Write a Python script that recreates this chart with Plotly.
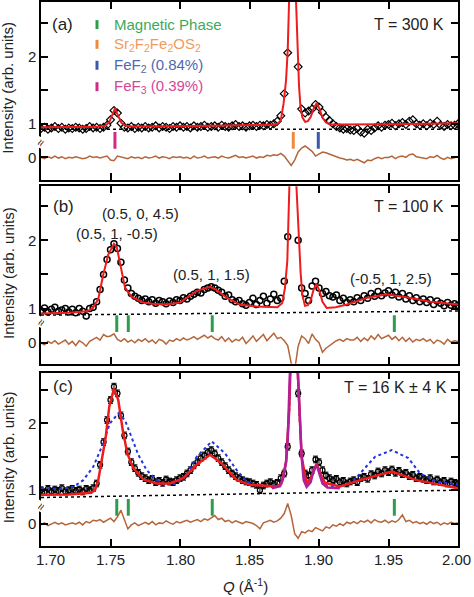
import plotly.graph_objects as go

# ---------------- data ----------------
Q_START, Q_STEP, N_Q = 1.70, 0.0025, 121
q_obs = [round(Q_START + Q_STEP * i, 4) for i in range(N_Q)]

obs_a = [0.93,0.95,0.92,0.94,0.96,0.93,0.95,0.92,0.94,0.93,
         0.95,0.94,0.92,0.93,0.96,0.94,0.95,0.93,0.95,0.98,
         1.06,1.20,1.16,1.01,0.95,0.94,0.96,0.93,0.95,0.94,
         0.96,0.94,0.95,0.97,0.94,0.96,0.95,0.93,0.96,0.95,
         0.97,0.95,0.96,0.94,0.97,0.95,0.96,0.98,0.95,0.96,
         0.97,0.95,0.98,0.96,0.95,0.97,0.99,0.96,0.97,0.95,
         0.97,0.98,0.96,0.98,0.97,0.99,0.98,1.00,1.04,1.12,
         1.45,2.06,4.50,3.80,1.85,1.22,1.16,1.19,1.22,1.29,
         1.25,1.17,1.10,1.05,1.00,0.96,0.94,0.92,0.93,0.91,
         0.90,0.93,0.88,0.86,0.92,0.90,0.94,0.97,0.95,0.98,
         0.99,1.01,0.97,1.00,1.02,0.99,1.04,1.06,1.00,0.98,
         1.00,0.97,1.01,0.99,1.04,0.98,0.96,0.99,0.97,0.98,
         1.00]
res_a = [0.00,-0.02,0.01,-0.01,0.02,-0.01,0.01,-0.02,0.00,-0.01,
         0.01,0.00,-0.02,-0.01,0.02,0.00,0.01,-0.01,0.01,0.02,
         -0.04,-0.05,0.02,0.01,-0.01,-0.02,0.01,-0.01,0.00,-0.02,
         0.01,-0.01,0.00,0.02,-0.01,0.01,0.00,-0.02,0.01,0.00,
         0.01,-0.01,0.00,-0.02,0.02,-0.01,0.00,0.02,-0.01,0.00,
         0.01,-0.01,0.02,0.00,-0.01,0.01,0.03,0.00,0.01,-0.01,
         0.00,0.02,-0.01,0.01,0.00,0.03,0.02,0.04,0.03,0.06,
         0.02,-0.06,-0.12,-0.04,0.08,0.14,0.17,0.13,0.09,0.02,
         0.05,0.08,0.07,0.05,0.02,0.01,-0.01,-0.02,-0.04,-0.03,
         -0.05,-0.03,-0.06,-0.08,-0.04,-0.05,-0.02,0.00,-0.02,0.00,
         0.00,0.02,-0.02,0.01,0.02,0.00,0.04,0.05,0.01,0.00,
         0.00,-0.02,0.01,0.00,0.03,-0.01,-0.03,0.00,-0.02,-0.01,
         0.01]
fit_a_q = [1.700,1.740,1.746,1.749,1.751,1.7532,1.7555,1.758,1.761,1.766,1.800,1.850,1.866,
           1.870,1.8725,1.8745,1.8763,1.8775,1.879,1.8807,1.8825,1.8844,1.8856,1.8866,1.888,
           1.890,1.892,1.894,1.896,1.8983,1.9005,1.9025,1.905,1.9075,1.912,1.950,2.000]
fit_a_y = [0.95,0.955,0.97,1.02,1.12,1.23,1.12,1.01,0.97,0.96,0.965,0.975,0.985,
           1.00,1.05,1.30,1.65,2.10,3.2,4.5,3.4,2.06,1.58,1.27,1.10,
           1.03,1.04,1.10,1.22,1.31,1.22,1.09,1.02,0.995,0.99,0.995,1.01]

obs_b = [0.97,1.01,0.95,0.99,1.02,0.96,0.98,1.00,0.95,0.99,
         0.94,1.00,0.96,0.89,1.00,1.02,1.10,1.28,1.50,1.72,
         1.86,1.95,1.88,1.68,1.42,1.30,1.22,1.18,1.15,1.12,
         1.14,1.10,1.13,1.08,1.12,1.10,1.07,1.11,1.09,1.13,
         1.12,1.16,1.14,1.18,1.21,1.24,1.23,1.28,1.30,1.32,
         1.30,1.27,1.24,1.18,1.20,1.13,1.10,1.12,1.07,1.05,
         1.09,1.15,1.06,1.12,1.18,1.08,1.14,1.21,1.12,1.15,
         1.40,2.05,4.20,3.50,2.00,1.30,1.22,1.12,1.33,1.40,
         1.30,1.22,1.25,1.19,1.17,1.20,1.12,1.15,1.09,1.13,
         1.10,1.16,1.12,1.19,1.15,1.22,1.18,1.25,1.19,1.23,
         1.26,1.20,1.24,1.17,1.22,1.14,1.19,1.12,1.16,1.10,
         1.14,1.09,1.13,1.06,1.11,1.08,1.04,1.09,1.05,1.07,
         1.05]
res_b = [0.00,-0.03,0.02,-0.01,0.03,-0.02,0.01,0.04,-0.02,0.02,
         -0.04,0.03,0.00,-0.05,0.02,0.05,0.08,0.04,0.12,0.09,
         0.10,0.13,0.05,0.02,0.06,0.01,0.04,0.00,0.05,0.02,
         0.06,0.01,0.04,-0.01,0.05,0.03,-0.02,0.04,0.02,0.06,
         0.03,0.07,0.04,0.06,0.09,0.05,0.08,0.11,0.07,0.10,
         0.06,0.04,0.09,0.02,0.07,0.01,0.05,0.03,0.08,-0.01,
         0.04,0.10,0.02,0.07,0.12,0.03,0.09,0.14,0.06,0.08,
         0.03,-0.04,-0.30,-0.40,-0.05,0.10,0.06,-0.01,0.13,0.05,
         0.00,-0.14,-0.08,-0.04,0.00,0.03,0.05,0.02,0.06,0.04,
         0.04,0.08,0.02,0.07,0.03,0.10,0.05,0.12,0.06,0.09,
         0.11,0.05,0.09,0.03,0.08,0.02,0.07,0.01,0.05,0.03,
         0.06,0.02,0.05,-0.01,0.04,0.02,-0.02,0.05,0.01,0.03,
         0.02]
fit_b_q = [1.700,1.720,1.733,1.737,1.7412,1.7448,1.7484,1.7525,1.7545,1.7568,1.7604,1.7652,
           1.770,1.7736,1.780,1.790,1.800,1.812,1.8216,1.8265,1.8336,1.843,1.855,1.870,
           1.8735,1.8755,1.8772,1.8787,1.8810,1.8835,1.8851,1.8868,1.888,1.8899,1.892,1.894,
           1.896,1.8983,1.9005,1.9025,1.9055,1.912,1.920,1.935,1.9487,1.965,1.980,2.000]
fit_b_y = [0.93,0.94,0.96,1.00,1.14,1.50,1.79,1.95,1.90,1.65,1.31,1.17,
           1.12,1.09,1.07,1.06,1.09,1.26,1.32,1.27,1.16,1.06,1.03,1.02,
           1.08,1.30,1.70,2.55,4.5,2.9,2.11,1.52,1.20,1.04,1.05,1.12,
           1.27,1.36,1.25,1.10,1.01,1.02,1.06,1.16,1.21,1.16,1.10,1.06]

obs_c = [1.00,0.97,1.02,0.98,1.01,0.99,1.03,0.98,1.00,1.02,
         0.99,1.01,0.98,1.02,1.00,1.03,1.10,1.38,1.72,2.05,
         2.35,2.55,2.45,2.12,1.82,1.58,1.42,1.33,1.26,1.21,
         1.18,1.15,1.17,1.12,1.14,1.11,1.16,1.13,1.12,1.15,
         1.18,1.20,1.25,1.30,1.37,1.42,1.48,1.52,1.57,1.60,
         1.55,1.48,1.42,1.36,1.30,1.25,1.21,1.18,1.15,1.13,
         1.12,1.10,1.08,1.00,1.07,1.10,1.12,1.09,1.11,1.18,
         1.25,1.65,3.80,4.20,2.45,1.55,1.25,1.22,1.30,1.46,
         1.42,1.30,1.22,1.18,1.15,1.17,1.12,1.14,1.10,1.13,
         1.15,1.12,1.18,1.20,1.17,1.24,1.22,1.28,1.25,1.30,
         1.27,1.31,1.26,1.29,1.24,1.26,1.21,1.23,1.18,1.20,
         1.17,1.15,1.18,1.13,1.16,1.12,1.14,1.10,1.13,1.11,
         1.10]
err_c = 0.05
res_c = [-0.02,0.01,-0.03,0.00,0.02,-0.01,0.01,-0.02,0.00,0.01,
         -0.01,0.02,-0.02,0.03,0.01,0.05,0.04,0.06,0.02,0.05,
         0.08,0.03,0.10,0.20,0.05,-0.08,-0.02,0.01,-0.03,0.00,
         0.02,-0.01,0.03,-0.02,0.01,0.00,0.04,0.01,-0.01,0.03,
         0.01,0.03,0.05,0.02,0.04,0.06,0.03,0.07,0.05,0.09,
         0.12,0.06,0.08,0.03,0.05,0.01,0.04,0.02,0.00,0.03,
         0.02,0.00,-0.03,-0.08,0.01,0.03,0.05,0.02,0.04,0.08,
         0.15,0.30,0.12,-0.15,-0.22,-0.12,-0.14,-0.10,-0.12,-0.06,
         -0.08,-0.11,-0.05,-0.07,-0.02,-0.04,0.00,-0.03,0.02,0.00,
         0.03,0.00,0.04,0.02,0.05,0.01,0.06,0.03,0.02,0.05,
         0.01,0.04,0.02,0.06,0.13,0.03,0.05,0.01,0.03,0.00,
         0.02,-0.01,0.03,0.00,0.02,-0.02,0.01,-0.01,0.02,0.00,
         0.01]
fit_c_q = [1.700,1.720,1.736,1.7388,1.7412,1.7437,1.7466,1.7491,1.7525,1.7556,1.7588,1.7621,
           1.7664,1.7736,1.7832,1.7928,1.8024,1.812,1.8216,1.830,1.8408,1.8504,1.8696,1.873,
           1.8763,1.8786,1.8800,1.8818,1.8836,1.8851,1.8875,1.8911,1.894,1.8983,1.902,1.9043,
           1.915,1.9295,1.9523,1.970,2.000]
fit_c_y = [0.93,0.935,0.96,1.00,1.15,1.45,1.80,2.25,2.52,2.35,1.90,1.55,
           1.33,1.16,1.10,1.10,1.18,1.38,1.53,1.40,1.15,1.08,1.055,1.10,
           1.42,2.2,3.3,4.5,3.3,2.5,1.5,1.10,1.18,1.40,1.20,1.11,
           1.055,1.15,1.28,1.15,1.03]
mag_c_q = [1.866,1.872,1.8745,1.8763,1.8775,1.8786,1.8800,1.8818,1.8836,1.8851,1.8863,
           1.8875,1.889,1.8911,1.894,1.896,1.8983,1.9005,1.9025,1.906,1.915]
mag_c_y = [1.03,1.06,1.20,1.42,1.75,2.2,3.3,4.5,3.3,2.5,1.95,
           1.5,1.15,1.05,1.12,1.28,1.38,1.25,1.10,1.04,1.03]
blue_c_q = [1.700,1.715,1.7233,1.7304,1.7376,1.7437,1.7496,1.7556,1.7604,1.7652,1.770,1.776,
            1.7832,1.7928,1.798,1.8048,1.812,1.8228,1.8324,1.8408,1.848,1.855,1.866,1.872,
            1.8745,1.8763,1.8775,1.8786,1.8800,1.8818,1.8836,1.8851,1.8863,1.8875,1.889,1.8911,
            1.894,1.896,1.8983,1.9005,1.9025,1.906,1.915,1.924,1.9319,1.9403,1.9523,1.9643,
            1.9727,1.9847,2.000]
blue_c_y = [1.03,1.02,1.05,1.15,1.35,1.65,2.00,2.15,2.05,1.80,1.53,1.30,
            1.15,1.08,1.10,1.23,1.50,1.73,1.55,1.30,1.13,1.07,1.05,1.07,
            1.21,1.43,1.76,2.2,3.3,4.5,3.3,2.5,1.96,1.52,1.17,1.07,
            1.14,1.29,1.39,1.27,1.12,1.06,1.05,1.12,1.30,1.50,1.60,1.48,
            1.25,1.13,1.08]

bkg_q = [1.70, 2.00]
bkg_a = [0.92, 0.92]
bkg_b = [0.905, 0.965]
bkg_c = [0.89, 1.00]

mag_q = [1.7545, 1.7628, 1.8232, 1.9542]
sr_q = [1.8815]
fef2_q = [1.8995]
fef3_q = [1.7532]

x_tick_vals = [1.70, 1.75, 1.80, 1.85, 1.90, 1.95, 2.00]
x_tick_text = ["1.70", "1.75", "1.80", "1.85", "1.90", "1.95", "2.00"]
y_tick_vals = [0.5, 1.0, 2.0]
y_tick_text = ["0", "1", "2"]
y_minor_vals = [1.5, 2.5]

# ---------------- styling ----------------
RES_OFF = 0.5
FONT = "Liberation Sans, Arial, sans-serif"
TXT = "#222222"
RED = "#ee1c1c"
BROWN = "#b5653a"
GREEN = "#2c9e4b"
ORANGE = "#f08a3e"
BLUE = "#3b59a8"
MAGENTA = "#cf2a86"
W, H = 474, 597
ML, MR, MT, MB = 41, 16, 0, 51
PW, PH = W - ML - MR, H - MT - MB

def px(x):
    return (x - ML) / PW

def py(y):
    return (PH + MT - y) / PH

fig = go.Figure()

panels = [
    dict(xa="x", ya="y", obs=obs_a, res=res_a, fq=fit_a_q, fy=fit_a_y, bkg=bkg_a,
         sym="diamond-open", msize=6, mlw=1.2, fw=2, tickc=0.753),
    dict(xa="x2", ya="y2", obs=obs_b, res=res_b, fq=fit_b_q, fy=fit_b_y, bkg=bkg_b,
         sym="circle-open", msize=6, mlw=1.5, fw=2, tickc=0.78),
    dict(xa="x3", ya="y3", obs=obs_c, res=res_c, fq=fit_c_q, fy=fit_c_y, bkg=bkg_c,
         sym="circle-open", msize=5, mlw=1.3, fw=2.5, tickc=0.743),
]

for i, p in enumerate(panels):
    ax = dict(xaxis=p["xa"], yaxis=p["ya"])
    fig.add_trace(go.Scatter(x=bkg_q, y=p["bkg"], mode="lines",
                             line=dict(color="black", width=1.5, dash="dot"), **ax))
    ekw = {}
    if i == 2:
        ekw = dict(error_y=dict(type="constant", value=err_c, color="black", thickness=1, width=2.5))
    fig.add_trace(go.Scatter(x=q_obs, y=p["obs"], mode="markers",
                             marker=dict(symbol=p["sym"], size=p["msize"], color="black",
                                         line=dict(width=p["mlw"], color="black")),
                             **ekw, **ax))
    if i == 2:
        fig.add_trace(go.Scatter(x=blue_c_q, y=blue_c_y, mode="lines",
                                 line=dict(color="#2233dd", width=2, dash="dot"), **ax))
    fig.add_trace(go.Scatter(x=p["fq"], y=p["fy"], mode="lines",
                             line=dict(color=RED, width=p["fw"]), **ax))
    if i == 2:
        fig.add_trace(go.Scatter(x=mag_c_q, y=mag_c_y, mode="lines",
                                 line=dict(color="#b0209a", width=2.5), **ax))
    fig.add_trace(go.Scatter(x=q_obs, y=[r + RES_OFF for r in p["res"]], mode="lines",
                             line=dict(color=BROWN, width=1.5), **ax))
    if i == 0:
        sets = [(fef3_q, MAGENTA), (sr_q, ORANGE), (fef2_q, BLUE)]
    else:
        sets = [(mag_q, GREEN)]
    for qs, col in sets:
        fig.add_trace(go.Scatter(x=qs, y=[p["tickc"]] * len(qs), mode="markers",
                                 marker=dict(symbol="line-ns", size=12, color=col,
                                             line=dict(width=3, color=col)), **ax))

axis_common = dict(showline=True, linecolor="black", linewidth=1.5, mirror="ticks",
                   ticks="inside", ticklen=7, tickwidth=1.5, tickcolor="black",
                   showgrid=False, zeroline=False,
                   tickfont=dict(family=FONT, size=15, color=TXT))
y_minor = dict(tickvals=y_minor_vals, ticks="inside", ticklen=7, tickwidth=1.5,
               tickcolor="black", showgrid=False)

dom_a = [py(178.3), 1.0]
dom_b = [py(363), py(185)]
dom_c = [0.0, py(372)]

fig.update_layout(
    width=W, height=H, margin=dict(l=ML, r=MR, t=MT, b=MB),
    paper_bgcolor="white", plot_bgcolor="white", showlegend=False,
    font=dict(family=FONT, size=15, color=TXT),
    xaxis=dict(domain=[0, 1], anchor="y", range=[1.70, 2.00], tickvals=x_tick_vals,
               showticklabels=False, **axis_common),
    xaxis2=dict(domain=[0, 1], anchor="y2", range=[1.70, 2.00], tickvals=x_tick_vals,
                showticklabels=False, **axis_common),
    xaxis3=dict(domain=[0, 1], anchor="y3", range=[1.70, 2.00], tickvals=x_tick_vals,
                showticklabels=False, **axis_common),
    yaxis=dict(domain=dom_a, anchor="x", range=[0.168, 2.817], tickvals=y_tick_vals,
               ticktext=y_tick_text, minor=y_minor, **axis_common),
    yaxis2=dict(domain=dom_b, anchor="x2", range=[0.194, 2.79], tickvals=y_tick_vals,
                ticktext=y_tick_text, minor=y_minor, **axis_common),
    yaxis3=dict(domain=dom_c, anchor="x3", range=[0.164, 2.76], tickvals=y_tick_vals,
                ticktext=y_tick_text, minor=y_minor, **axis_common),
)

ann = []
def text(x, y, s, size=15, color=TXT, xanchor="center", **kw):
    ann.append(dict(x=px(x), y=py(y), xref="paper", yref="paper", text=s, showarrow=False,
                    xanchor=xanchor, yanchor="middle",
                    font=dict(family=FONT, size=size, color=color), **kw))

# x tick labels (placed like the reference; first one nudged right of the axis)
for v, t in zip(x_tick_vals, x_tick_text):
    xpix = ML + (v - 1.70) / 0.30 * PW
    if v == 1.70:
        xpix += 9
    if v == 2.00:
        xpix -= 2
    text(xpix, 560, t, size=15)

# panel letters and temperatures
text(50, 23, "(a)", size=17, xanchor="left")
text(51, 205, "(b)", size=17, xanchor="left")
text(51, 386, "(c)", size=17, xanchor="left")
text(446, 23, "T = 300 K", size=16, xanchor="right")
text(446, 205, "T = 100 K", size=16, xanchor="right")
text(449, 387, "T = 16 K ± 4 K", size=16, xanchor="right")

# legend
leg = [("Magnetic Phase", GREEN, "#3aaa5c", 22.7),
       ("Sr<sub>2</sub>F<sub>2</sub>Fe<sub>2</sub>OS<sub>2</sub>", ORANGE, "#f29a5e", 42.5),
       ("FeF<sub>2</sub> (0.84%)", BLUE, "#5068b0", 63.5),
       ("FeF<sub>3</sub> (0.39%)", MAGENTA, "#d4459a", 85)]
shapes = []
for label, bar_col, txt_col, yy in leg:
    text(112, yy, label, size=15, color=txt_col, xanchor="left")
    shapes.append(dict(type="line", xref="paper", yref="paper", x0=px(97), x1=px(97),
                       y0=py(yy - 4.5), y1=py(yy + 4.5), line=dict(color=bar_col, width=3)))

# hkl labels
text(140, 212, "(0.5, 0, 4.5)")
text(117, 232, "(0.5, 1, -0.5)")
text(211, 273, "(0.5, 1, 1.5)")
text(391, 278, "(-0.5, 1, 2.5)")

# axis break marks
for yy in (142, 322, 507):
    text(41, yy, "≈", size=12, textangle=-60, bgcolor="white")

# y-axis titles
for yy in (86, 272, 457):
    text(8, yy, "Intensity (arb. units)", size=15, textangle=-90)

# x-axis title
text(245, 586, "<i>Q</i> (Å<sup>-1</sup>)", size=15)

fig.update_layout(annotations=ann, shapes=shapes)
fig.write_html("out.html", config={"displayModeBar": False},
               post_script="document.body.style.margin='0';document.body.style.padding='0';")
